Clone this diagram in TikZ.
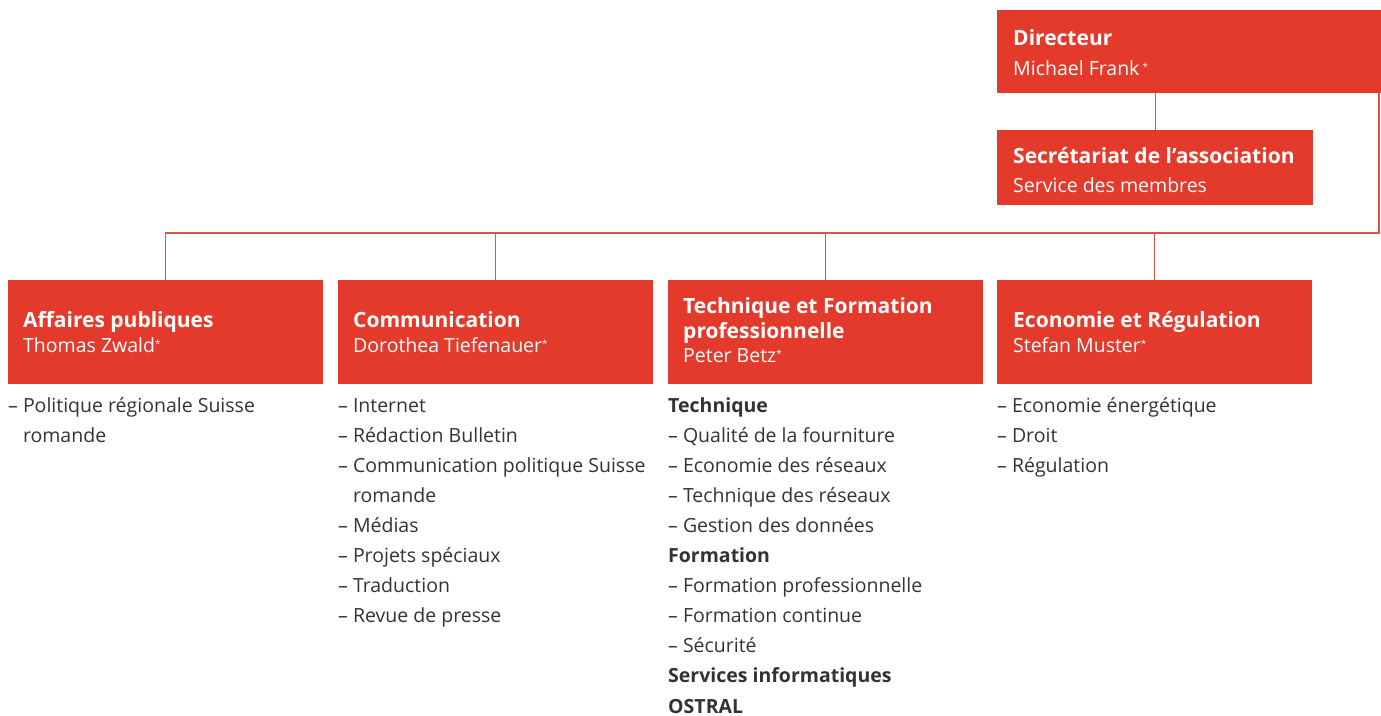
\documentclass[tikz,border=0pt]{standalone}
\usepackage{fontspec}
\setmainfont{Open Sans}
\definecolor{boxred}{HTML}{E43A2C}
\definecolor{linered}{HTML}{D9553F}
\definecolor{txt}{HTML}{333333}
\newcommand{\stern}{\raisebox{5pt}{\scalebox{0.5}{*}}}
\tikzset{
  box/.style={fill=boxred, draw=none, anchor=north west, inner sep=0pt},
  conn/.style={draw=linered, line width=1.3pt},
  ttl/.style={anchor=base west, inner sep=0pt, text=white, font=\fontsize{21}{24}\selectfont\bfseries},
  nm/.style={anchor=base west, inner sep=0pt, text=white, font=\fontsize{19.5}{24}\selectfont},
  item/.style={anchor=base west, inner sep=0pt, text=txt, font=\fontsize{19.5}{24}\selectfont},
}
\begin{document}
\begin{tikzpicture}[x=1pt,y=-1pt]
\useasboundingbox (0,0) rectangle (1381,715);
% boxes
\node[box, minimum width=384pt, minimum height=83pt] (dir) at (997,10) {};
\node[box, minimum width=316pt, minimum height=75pt] (sec) at (997,130) {};
\node[box, minimum width=315pt, minimum height=104pt] (b1) at (8,280) {};
\node[box, minimum width=315pt, minimum height=104pt] (b2) at (338,280) {};
\node[box, minimum width=315pt, minimum height=104pt] (b3) at (668,280) {};
\node[box, minimum width=315pt, minimum height=104pt] (b4) at (997,280) {};
% connectors
\coordinate (busR) at (1379,233);
\draw[conn] (sec.north) -- (sec.north |- dir.south);
\draw[conn] (b1.north) |- (busR) -- (busR |- dir.south);
\draw[conn] (b2.north) -- (b2.north |- busR);
\draw[conn] (b3.north) -- (b3.north |- busR);
\draw[conn] (b4.north) -- (b4.north |- busR);
% box texts
\node[ttl] (dirT) at (1013,45) {Directeur};
\node[nm]  (dirN) at (1013,75) {Michael Frank\,\stern};
\node[ttl] (secT) at (1013,163) {Secrétariat de l’association};
\node[nm]  (secN) at (1013,192) {Service des membres};
\node[ttl] (b1T) at (23,327) {Affaires publiques};
\node[nm]  (b1N) at (23,352) {Thomas Zwald\stern};
\node[ttl] (b2T) at (353,327) {Communication};
\node[nm]  (b2N) at (353,352) {Dorothea Tiefenauer\stern};
\node[ttl] (b3T) at (683,313) {Technique et Formation};
\node[ttl] (b3U) at (683,338) {professionnelle};
\node[nm]  (b3N) at (683,362) {Peter Betz\stern};
\node[ttl] (b4T) at (1013,327) {Economie et Régulation};
\node[nm]  (b4N) at (1013,352) {Stefan Muster\stern};
% lists
\foreach \t [count=\i] in {– Politique régionale Suisse, \phantom{– }romande}
  \node[item, name=l1-\i] at (8,412+30.1*\i-30.1) {\t};
\foreach \t [count=\i] in {– Internet, – Rédaction Bulletin, – Communication politique Suisse, \phantom{– }romande, – Médias, – Projets spéciaux, – Traduction, – Revue de presse}
  \node[item, name=l2-\i] at (338,412+30.1*\i-30.1) {\t};
\foreach \t [count=\i] in {\textbf{Technique}, – Qualité de la fourniture, – Economie des réseaux, – Technique des réseaux, – Gestion des données, \textbf{Formation}, – Formation professionnelle, – Formation continue, – Sécurité, \textbf{Services informatiques}, \textbf{OSTRAL}}
  \node[item, name=l3-\i] at (668,412+30.1*\i-30.1) {\t};
\foreach \t [count=\i] in {– Economie énergétique, – Droit, – Régulation}
  \node[item, name=l4-\i] at (997,412+30.1*\i-30.1) {\t};
\end{tikzpicture}
\end{document}
